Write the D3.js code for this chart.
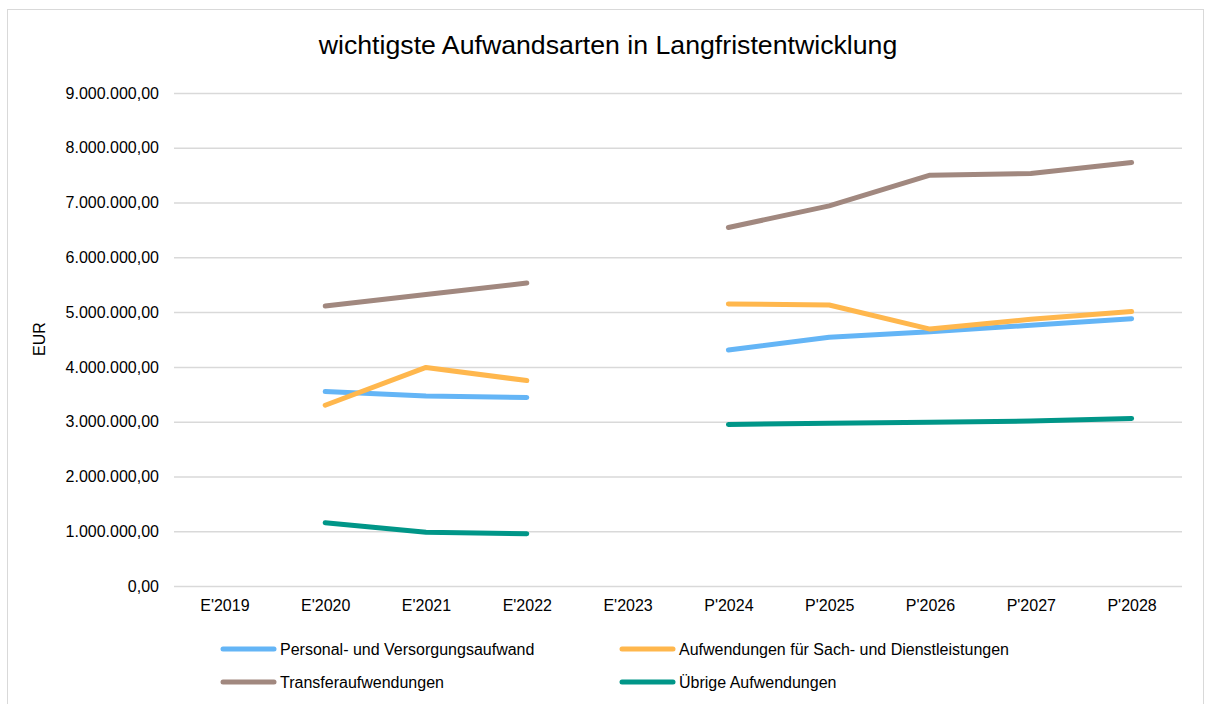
<!DOCTYPE html>
<html>
<head>
<meta charset="utf-8">
<script src="https://cdn.jsdelivr.net/npm/d3@7"></script>
<style>
  body { margin: 0; background: #fff; }
  text { font-family: "Liberation Sans", Arial, sans-serif; fill: #000; }
</style>
</head>
<body>
<svg id="chart"></svg>
<script>
// Data
const categories = ["E'2019", "E'2020", "E'2021", "E'2022", "E'2023", "P'2024", "P'2025", "P'2026", "P'2027", "P'2028"];
const personal = [null, 3550000, 3470000, 3440000, null, 4310000, 4540000, 4640000, 4760000, 4880000];
const sachDienst = [null, 3300000, 3990000, 3750000, null, 5150000, 5130000, 4690000, 4870000, 5010000];
const transfer = [null, 5110000, 5320000, 5530000, null, 6545000, 6940000, 7500000, 7530000, 7730000];
const uebrige = [null, 1155000, 980000, 955000, null, 2950000, 2970000, 2990000, 3010000, 3060000];
const yTicks = [0, 1000000, 2000000, 3000000, 4000000, 5000000, 6000000, 7000000, 8000000, 9000000];

const series = [
    { name: "Personal- und Versorgungsaufwand", values: personal, color: "#64B5F6" },
    { name: "Aufwendungen für Sach- und Dienstleistungen", values: sachDienst, color: "#FFB74D" },
    { name: "Transferaufwendungen", values: transfer, color: "#A1887F" },
    { name: "Übrige Aufwendungen", values: uebrige, color: "#009688" }
];

const dimensions = {
    width: 1209,
    height: 704,
    plot: { left: 174, right: 1182, top: 93, bottom: 586 },
    fontSize: "16px"
};

// German number format
const de = d3.formatLocale({ decimal: ",", thousands: ".", grouping: [3], currency: ["", " €"] });
const fmt = de.format(",.2f");

const svg = d3.select("#chart")
    .attr("width", dimensions.width)
    .attr("height", dimensions.height);

// chart border
svg.append("rect")
    .attr("x", 7.5)
    .attr("y", 9.5)
    .attr("width", 1196)
    .attr("height", 720)
    .attr("fill", "none")
    .attr("stroke", "#d9d9d9")
    .attr("stroke-width", 1);

// Scales
const xScale = d3.scalePoint()
    .domain(categories)
    .range([dimensions.plot.left, dimensions.plot.right])
    .padding(0.5);

const yScale = d3.scaleLinear()
    .domain([0, 9000000])
    .range([dimensions.plot.bottom, dimensions.plot.top]);

// Title
svg.append("text")
    .attr("x", 608)
    .attr("y", 54)
    .attr("text-anchor", "middle")
    .style("font-size", "26.7px")
    .text("wichtigste Aufwandsarten in Langfristentwicklung");

// Y axis (gridlines + labels)
const yAxis = svg.append("g")
    .attr("transform", `translate(${dimensions.plot.left},0)`)
    .call(d3.axisLeft(yScale)
        .tickValues(yTicks)
        .tickSize(-(dimensions.plot.right - dimensions.plot.left))
        .tickPadding(15)
        .tickFormat(fmt));
yAxis.select(".domain").remove();
yAxis.selectAll(".tick line")
    .attr("stroke", "#d9d9d9")
    .attr("stroke-width", 1.5);
yAxis.selectAll(".tick text")
    .style("font-size", dimensions.fontSize)
    .style("font-family", "Liberation Sans, Arial, sans-serif")
    .attr("fill", "#000");

// Y axis title
svg.append("text")
    .attr("transform", "translate(45,339) rotate(-90)")
    .attr("text-anchor", "middle")
    .style("font-size", dimensions.fontSize)
    .text("EUR");

// X axis labels
const xAxis = svg.append("g")
    .attr("transform", `translate(0,${dimensions.plot.bottom})`)
    .call(d3.axisBottom(xScale).tickSize(0).tickPadding(14));
xAxis.select(".domain").remove();
xAxis.selectAll(".tick text")
    .style("font-size", dimensions.fontSize)
    .style("font-family", "Liberation Sans, Arial, sans-serif")
    .attr("fill", "#000");

// Lines
const line = d3.line()
    .defined(d => d.value !== null)
    .x(d => xScale(d.category))
    .y(d => yScale(d.value));

series.forEach(s => {
    const points = categories.map((c, i) => ({ category: c, value: s.values[i] }));
    svg.append("path")
        .datum(points)
        .attr("d", line)
        .attr("fill", "none")
        .attr("stroke", s.color)
        .attr("stroke-width", 5)
        .attr("stroke-linejoin", "round")
        .attr("stroke-linecap", "round");
});

// Legend
const legendPos = [
    { x: 221, y: 649 },
    { x: 620, y: 649 },
    { x: 221, y: 682 },
    { x: 620, y: 682 }
];

series.forEach((s, i) => {
    const g = svg.append("g")
        .attr("transform", `translate(${legendPos[i].x},${legendPos[i].y})`);
    g.append("line")
        .attr("x1", 2)
        .attr("x2", 53)
        .attr("y1", 0)
        .attr("y2", 0)
        .attr("stroke", s.color)
        .attr("stroke-width", 5)
        .attr("stroke-linecap", "round");
    g.append("text")
        .attr("x", 59)
        .attr("y", 0)
        .attr("dy", "0.35em")
        .style("font-size", dimensions.fontSize)
        .text(s.name);
});
</script>
</body>
</html>
